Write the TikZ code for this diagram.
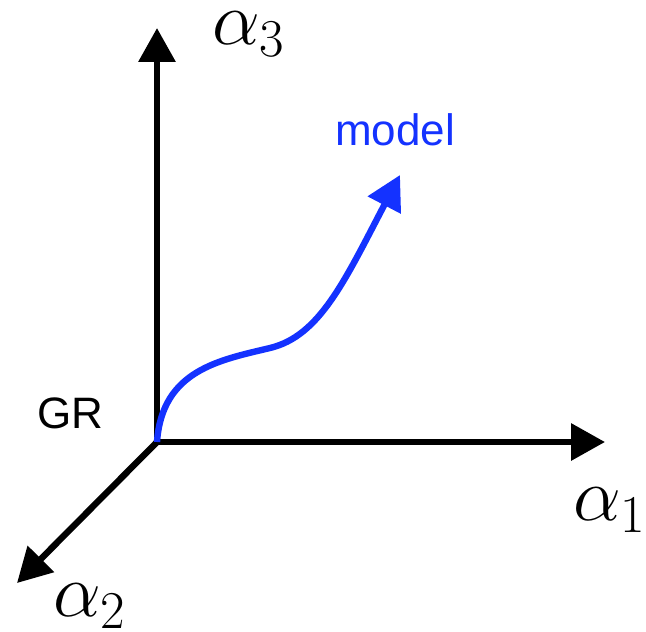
\documentclass[tikz,border=0pt]{standalone}
\usepackage{fix-cm}
\usepackage{fontspec}
\setsansfont{Liberation Sans}
\usetikzlibrary{arrows.meta}
\begin{document}
\begin{tikzpicture}[x=0.5pt, y=-0.5pt]
    \tikzstyle{axis} = [line width=3.2pt, -{Triangle[length=17pt, width=18pt]}]
    \tikzstyle{curve} = [line width=3.2pt, draw={rgb,255:red,20;green,50;blue,255}, -{Triangle[length=17pt, width=18pt]}]
    \tikzstyle{axlabel} = [font=\fontsize{38}{42}\selectfont, inner sep=0pt]
    \tikzstyle{txt} = [font=\sffamily\fontsize{22}{26}\selectfont]

    \useasboundingbox (0,0) rectangle (646,631);

    \coordinate (origin) at (157,442);
    \coordinate (top)    at (157,28);
    \coordinate (right)  at (605,442);
    \coordinate (front)  at (17,583);
    \coordinate (bend)   at (270,348);
    \coordinate (tip)    at (400,175);

    \node [axlabel] (a3) at (249,34)  {$\alpha_3$};
    \node [axlabel] (a1) at (610,510) {$\alpha_1$};
    \node [axlabel] (a2) at (90,606)  {$\alpha_2$};
    \node [txt, text={rgb,255:red,20;green,50;blue,255}] (model) at (395,130) {model};
    \node [txt] (gr) at (70,413) {GR};

    \draw [axis] (origin) -- (top);
    \draw [axis] (origin) -- (right);
    \draw [axis] (origin) -- (front);
    \draw [curve] (origin) .. controls (162,370) and (220,360) .. (bend) .. controls (320,336) and (345,280) .. (tip);
\end{tikzpicture}
\end{document}
